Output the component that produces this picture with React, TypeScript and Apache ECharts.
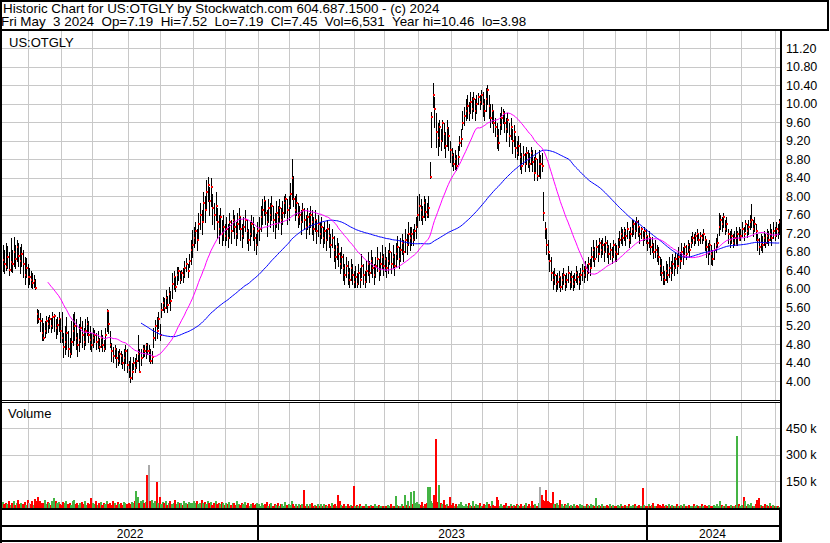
import React, { useEffect, useRef } from "react";
import * as echarts from "echarts";

// ---------- calendar (US market trading days shown on the chart) ----------
const FIRST_DAY = "2022-05-06";
const LAST_DAY = "2024-05-03";
const HOLIDAYS = [
  "2022-05-30", "2022-06-20", "2022-07-04", "2022-09-05", "2022-11-24", "2022-12-26",
  "2023-01-02", "2023-01-16", "2023-02-20", "2023-04-07", "2023-05-29", "2023-06-19",
  "2023-07-04", "2023-09-04", "2023-11-23", "2023-12-25",
  "2024-01-01", "2024-01-15", "2024-02-19", "2024-03-29",
];

// ---------- daily prices (one line per month) ----------
const CLOSES = [
  6.62,6.55,6.48,6.70,6.42,6.58,6.55,6.80,6.65,6.90,6.72,6.60,6.75,6.55,6.30,6.45,6.26,
  6.26,6.20,6.13,6.18,6.03,5.45,5.35,5.30,5.05,4.95,5.10,5.30,5.25,5.35,5.20,5.40,5.42,5.15,5.22,5.35,5.10,
  4.95,4.75,4.85,5.05,4.70,4.60,4.85,5.10,5.20,4.95,4.80,4.90,5.15,5.00,4.85,5.10,5.25,5.00,4.90,4.80,
  4.95,5.00,4.85,4.90,4.75,4.95,4.80,4.70,5.00,5.52,5.25,4.80,4.65,4.55,4.70,4.50,4.45,4.60,4.55,4.40,4.50,4.65,4.35,
  4.25,4.08,4.20,4.40,4.30,4.45,4.60,4.21,4.50,4.70,4.65,4.80,4.65,4.65,4.45,4.52,4.95,5.20,5.10,5.35,5.00,
  5.55,5.70,5.60,5.80,5.65,5.90,5.75,6.10,6.25,6.05,6.30,6.40,6.20,6.35,6.30,6.45,6.55,6.40,6.60,6.85,6.95,
  7.10,7.25,7.05,7.40,7.60,7.45,7.85,7.70,8.10,8.25,7.90,8.20,7.75,7.60,7.80,7.45,7.30,7.55,7.20,7.35,7.15,
  7.30,7.10,7.45,7.25,7.50,7.35,7.20,7.40,7.55,7.30,7.15,7.35,7.50,7.25,7.05,7.20,7.40,7.30,7.10,6.95,7.25,
  7.30,7.55,7.70,7.90,7.65,7.45,7.75,7.60,7.80,7.50,7.40,7.65,7.55,7.75,7.50,7.65,7.85,7.95,7.70,7.80,
  8.05,8.40,7.95,7.70,7.85,7.55,7.60,7.45,7.70,7.50,7.35,7.55,7.40,7.60,7.45,7.30,7.50,7.25,7.40,
  7.20,7.35,7.10,7.25,7.05,7.30,7.15,6.95,7.10,6.85,6.70,6.90,6.75,6.55,6.70,6.45,6.30,6.50,6.35,6.20,6.45,6.30,6.15,
  6.25,6.10,6.35,6.20,6.50,6.30,6.15,6.40,6.55,6.35,6.60,6.45,6.30,6.50,6.65,6.40,6.55,6.70,6.50,
  6.65,6.45,6.60,6.80,6.55,6.70,6.50,6.75,6.90,6.65,6.85,7.00,6.80,7.05,6.95,7.20,7.10,7.20,7.05,7.25,7.35,7.60,
  7.80,7.70,7.55,7.85,7.67,7.60,7.75,8.42,9.72,10.20,9.90,9.40,9.26,9.50,9.20,9.60,9.35,9.10,9.48,9.30,9.00,
  8.90,8.70,8.80,8.65,8.85,9.15,9.25,9.60,9.75,9.85,9.95,9.80,10.05,9.90,10.10,9.85,10.00,10.15,10.05,10.20,
  10.00,9.85,10.10,10.30,9.95,9.70,9.85,9.60,9.50,9.30,9.15,9.55,9.70,9.80,9.60,9.45,9.65,9.30,9.50,9.20,9.40,9.05,8.95,
  9.10,8.85,8.65,8.90,8.70,8.95,8.80,8.70,8.95,8.75,8.50,8.80,8.45,8.70,8.70,8.65,7.65,7.30,6.95,6.80,
  6.60,6.35,6.20,6.30,6.10,6.15,6.25,6.05,6.20,6.30,6.10,6.20,6.35,6.15,6.25,6.10,6.20,6.35,6.25,6.15,6.30,6.40,
  6.30,6.45,6.35,6.55,6.45,6.70,6.85,6.65,6.90,6.75,7.00,6.85,6.95,6.80,7.00,6.90,6.75,6.85,6.70,6.95,6.80,
  6.75,6.90,7.05,7.20,7.10,7.25,7.15,7.30,7.05,7.20,7.30,7.40,7.25,7.45,7.35,7.20,7.30,7.10,7.25,7.15,
  7.00,7.10,6.90,6.95,6.80,6.85,6.75,6.70,6.50,6.35,6.25,6.20,6.40,6.30,6.45,6.35,6.55,6.45,6.65,6.50,6.70,
  6.60,6.80,6.70,6.90,6.75,6.95,6.85,7.00,7.10,7.05,7.15,7.20,7.05,7.15,7.10,7.20,7.05,6.90,6.80,6.95,
  6.75,6.65,6.85,6.95,7.00,7.35,7.50,7.40,7.55,7.30,7.40,7.20,7.05,7.15,7.00,7.10,6.95,7.20,7.05,7.15,
  7.30,7.20,7.40,7.25,7.35,7.45,7.50,7.30,7.40,7.25,7.05,6.90,7.00,6.95,7.10,7.00,7.15,7.05,7.20,7.10,7.25,7.15,
  7.30,7.25,7.45,
];

const HIGHS = [
  6.95,6.85,7.00,6.92,6.80,7.10,6.85,7.13,6.95,7.05,7.00,6.90,6.98,6.85,6.70,6.68,6.55,
  6.45,6.40,6.35,6.30,6.22,5.57,5.55,5.48,5.38,5.27,5.30,5.42,5.40,5.44,5.38,5.50,5.45,5.35,5.40,5.50,5.35,
  5.50,5.05,5.20,5.40,5.10,4.95,5.30,5.45,5.50,5.35,5.05,5.25,5.40,5.30,5.15,5.35,5.40,5.30,5.20,5.05,
  5.15,5.12,5.05,5.10,4.95,5.12,5.00,4.90,5.15,5.57,5.50,5.10,4.84,4.75,4.80,4.73,4.65,4.70,4.65,4.60,4.70,4.80,4.70,
  4.45,4.54,4.40,4.54,4.50,4.60,5.00,4.70,4.70,4.80,4.78,4.84,4.84,4.80,4.70,4.65,5.15,5.33,5.40,5.50,5.25,
  5.70,5.83,5.80,5.98,5.85,6.05,5.95,6.35,6.40,6.25,6.48,6.48,6.40,6.42,6.45,6.60,6.67,6.55,6.75,7.05,7.27,
  7.35,7.45,7.30,7.65,7.85,7.70,8.10,8.00,8.35,8.42,8.20,8.40,8.05,7.85,8.10,7.75,7.60,7.75,7.50,7.60,7.40,
  7.55,7.40,7.65,7.50,7.70,7.60,7.45,7.65,7.75,7.55,7.40,7.55,7.70,7.50,7.30,7.45,7.60,7.55,7.35,7.20,7.45,
  7.55,7.80,7.95,8.00,7.90,7.70,7.95,7.85,8.00,7.80,7.65,7.90,7.80,7.95,7.75,7.90,8.00,8.05,7.95,8.00,
  8.30,8.80,8.45,8.00,8.05,7.85,7.80,7.70,7.85,7.75,7.60,7.75,7.65,7.80,7.70,7.55,7.70,7.50,7.60,
  7.45,7.55,7.35,7.45,7.30,7.50,7.40,7.20,7.30,7.15,6.95,7.10,7.00,6.80,6.90,6.75,6.55,6.70,6.60,6.45,6.65,6.55,6.40,
  6.50,6.35,6.55,6.45,6.75,6.55,6.40,6.60,6.80,6.60,6.85,6.70,6.55,6.70,6.90,6.65,6.80,6.95,6.75,
  6.90,6.70,6.85,7.00,6.80,6.95,6.75,7.00,7.15,6.90,7.10,7.20,7.05,7.30,7.20,7.45,7.35,7.35,7.30,7.40,7.55,8.00,
  8.05,7.95,7.80,8.00,7.95,7.85,8.00,8.75,9.83,10.46,10.15,9.80,9.60,9.66,9.45,9.66,9.60,9.40,9.66,9.50,9.20,
  9.05,8.95,9.00,8.90,9.10,9.30,9.45,9.85,9.94,10.10,10.20,10.05,10.26,10.15,10.25,10.10,10.20,10.24,10.20,10.30,
  10.25,10.10,10.35,10.41,10.20,10.00,10.00,9.85,9.70,9.60,9.45,9.80,9.94,9.90,9.85,9.70,9.80,9.60,9.70,9.45,9.55,9.30,9.20,
  9.30,9.16,8.95,9.10,8.95,9.07,9.00,8.95,9.07,9.00,8.85,9.00,8.80,9.00,8.90,8.95,8.10,7.45,7.30,7.05,
  6.75,6.70,6.40,6.45,6.30,6.35,6.40,6.25,6.35,6.45,6.30,6.35,6.50,6.35,6.40,6.30,6.35,6.50,6.40,6.35,6.45,6.55,
  6.50,6.60,6.55,6.70,6.65,6.90,7.05,6.90,7.05,6.95,7.10,7.05,7.10,7.00,7.15,7.05,6.95,7.00,6.90,7.05,7.00,
  6.95,7.10,7.25,7.35,7.30,7.35,7.30,7.45,7.25,7.35,7.50,7.50,7.45,7.55,7.50,7.35,7.33,7.25,7.35,7.30,
  7.15,7.25,7.10,7.13,7.00,7.05,6.95,6.90,6.70,6.64,6.50,6.40,6.60,6.55,6.70,6.60,6.75,6.70,6.80,6.75,6.90,
  6.80,7.00,6.90,7.00,6.95,7.05,7.00,7.15,7.24,7.20,7.24,7.30,7.20,7.24,7.20,7.30,7.15,7.06,7.00,7.05,
  6.95,6.85,7.00,7.10,7.20,7.65,7.60,7.55,7.65,7.50,7.55,7.30,7.25,7.30,7.20,7.25,7.35,7.25,7.35,7.30,
  7.45,7.35,7.50,7.40,7.50,7.60,7.84,7.50,7.55,7.40,7.20,7.10,7.20,7.15,7.25,7.20,7.30,7.25,7.40,7.30,7.45,7.35,
  7.45,7.40,7.52,
];

const LOWS = [
  6.40,6.35,6.42,6.45,6.30,6.40,6.37,6.50,6.45,6.60,6.50,6.35,6.50,6.26,6.10,6.25,6.05,
  6.10,6.05,6.02,6.05,6.00,5.27,5.28,5.10,4.90,4.90,4.97,5.05,5.08,5.15,5.08,5.16,5.10,4.95,5.02,5.10,4.85,
  4.85,4.52,4.60,4.70,4.55,4.52,4.60,4.80,4.90,4.70,4.55,4.65,4.85,4.75,4.70,4.80,5.00,4.85,4.70,4.65,
  4.75,4.85,4.70,4.72,4.65,4.75,4.65,4.65,4.70,5.10,5.05,4.75,4.45,4.43,4.50,4.32,4.35,4.40,4.37,4.30,4.25,4.40,4.20,
  4.10,3.98,4.05,4.26,4.20,4.30,4.45,4.20,4.35,4.54,4.55,4.50,4.60,4.45,4.40,4.40,4.75,4.90,4.95,5.15,4.90,
  5.40,5.55,5.50,5.60,5.50,5.70,5.55,5.80,6.00,5.95,6.10,6.20,6.13,6.20,6.15,6.26,6.40,6.26,6.48,6.55,6.70,
  6.90,7.00,6.85,7.10,7.30,7.20,7.50,7.45,7.75,7.90,7.60,7.80,7.40,7.30,7.50,7.10,7.00,7.20,6.95,7.05,6.95,
  7.05,6.90,7.10,7.00,7.25,7.10,6.95,7.10,7.30,7.05,6.90,7.10,7.25,7.00,6.85,6.95,7.15,7.05,6.85,6.75,6.95,
  7.05,7.25,7.40,7.60,7.40,7.15,7.45,7.35,7.50,7.25,7.10,7.35,7.30,7.45,7.20,7.40,7.55,7.65,7.40,7.50,
  7.75,7.95,7.80,7.50,7.60,7.35,7.40,7.20,7.45,7.30,7.10,7.30,7.20,7.35,7.20,7.05,7.25,7.00,7.15,
  7.00,7.10,6.90,7.00,6.85,7.05,6.90,6.70,6.90,6.60,6.45,6.65,6.50,6.35,6.45,6.20,6.10,6.25,6.10,6.05,6.20,6.10,6.05,
  6.05,6.05,6.10,6.05,6.25,6.10,6.05,6.15,6.30,6.15,6.35,6.25,6.10,6.25,6.40,6.20,6.30,6.45,6.30,
  6.40,6.25,6.35,6.55,6.35,6.45,6.30,6.50,6.65,6.45,6.60,6.75,6.60,6.80,6.75,6.95,6.85,6.95,6.95,7.05,7.10,7.35,
  7.50,7.50,7.40,7.55,7.50,7.55,7.55,8.40,9.07,9.94,9.50,9.07,8.90,9.10,9.00,9.20,9.05,8.86,9.10,9.00,8.75,
  8.65,8.57,8.60,8.57,8.70,9.00,9.10,9.45,9.55,9.65,9.70,9.66,9.80,9.70,9.85,9.66,9.80,10.00,9.90,10.00,
  9.75,9.66,9.85,10.00,9.70,9.50,9.60,9.40,9.30,9.05,9.00,9.35,9.45,9.60,9.40,9.20,9.40,9.10,9.25,8.95,9.10,8.86,8.80,
  8.90,8.60,8.50,8.70,8.55,8.70,8.64,8.55,8.70,8.55,8.36,8.55,8.36,8.45,8.40,8.55,7.50,7.10,6.75,6.65,
  6.40,6.20,6.00,6.10,5.95,6.00,6.05,5.95,6.00,6.10,5.98,6.05,6.15,6.00,6.05,5.97,6.05,6.15,6.10,6.00,6.10,6.20,
  6.15,6.25,6.20,6.35,6.30,6.50,6.60,6.50,6.70,6.60,6.80,6.70,6.75,6.60,6.80,6.70,6.57,6.65,6.57,6.70,6.60,
  6.60,6.75,6.90,7.00,6.95,7.05,6.95,7.10,6.90,7.00,7.15,7.20,7.10,7.25,7.15,7.00,7.10,6.95,7.05,7.00,
  6.85,6.90,6.75,6.80,6.67,6.70,6.60,6.55,6.30,6.20,6.10,6.10,6.20,6.15,6.25,6.20,6.35,6.30,6.45,6.35,6.55,
  6.45,6.65,6.55,6.75,6.64,6.80,6.70,6.90,7.00,6.95,7.00,7.05,6.95,7.00,7.00,7.05,6.85,6.70,6.55,6.75,
  6.55,6.52,6.65,6.80,6.90,7.17,7.30,7.25,7.35,7.20,7.25,7.00,6.90,7.00,6.90,6.95,6.95,6.95,7.05,7.05,
  7.15,7.05,7.25,7.13,7.20,7.30,7.35,7.15,7.25,7.05,6.85,6.76,6.85,6.80,6.95,6.90,7.00,6.95,7.05,6.95,7.10,7.05,
  7.15,7.10,7.19,
];

// daily volume, thousands of shares (one line per month)
const VOLUMES_K = [
  35,25,30,22,42,18,28,38,15,26,48,20,30,24,36,18,45,
  28,22,40,18,50,38,60,42,30,26,45,22,35,28,18,38,55,40,26,32,20,
  18,35,26,42,22,30,15,38,45,20,28,18,26,35,22,40,18,28,22,55,
  30,22,40,18,26,35,15,28,20,38,24,30,18,40,26,15,32,22,28,18,36,26,20,
  28,22,35,26,40,96,65,30,38,45,26,35,187,243,40,45,30,40,145,28,64,
  22,35,26,40,18,30,38,24,28,45,20,35,26,30,18,40,28,22,35,26,30,
  38,26,42,22,30,45,28,36,20,40,26,34,18,28,38,24,30,20,35,26,18,
  28,20,35,15,26,30,18,38,24,15,28,20,34,18,26,12,22,30,15,20,26,
  20,14,30,16,24,32,12,20,28,14,22,16,30,12,20,24,14,32,16,22,
  16,40,24,14,20,12,24,16,20,102,14,22,12,20,28,14,16,12,20,
  14,20,12,24,16,14,20,12,28,16,22,14,74,40,16,12,20,14,24,12,16,14,125,
  12,16,14,20,10,14,12,20,14,10,16,12,14,20,12,16,10,14,12,
  14,12,16,10,20,14,12,70,16,14,12,20,14,74,16,40,14,91,20,96,28,35,
  24,16,32,14,20,28,119,119,38,30,74,390,32,130,28,20,45,16,24,14,60,
  16,26,12,20,14,24,32,16,12,20,14,28,16,12,42,14,20,16,26,12,
  14,20,16,32,24,12,38,16,14,64,45,14,20,12,16,26,14,12,20,14,16,12,20,
  16,12,20,14,16,26,12,20,14,42,16,20,14,26,119,74,45,38,102,40,
  32,26,91,24,20,28,16,45,24,14,20,16,26,12,16,14,24,12,16,14,20,16,
  14,12,20,16,14,24,16,12,57,14,16,12,20,14,12,16,14,20,12,16,14,
  12,16,14,20,12,14,16,12,20,14,12,16,20,14,12,16,14,113,16,12,
  14,20,12,16,26,14,12,20,16,14,24,12,16,14,20,12,16,14,12,20,14,
  12,16,14,20,12,14,16,12,14,20,12,16,14,12,20,14,16,12,14,16,
  14,12,16,14,20,12,40,16,14,12,20,14,12,16,14,12,16,408,20,14,
  16,60,38,14,20,16,26,14,12,20,45,55,16,14,12,20,16,14,26,12,16,14,
  12,14,6.531,
];

const MA_FAST = 30;
const MA_SLOW = 90;
const PRICE_TICKS = { min: 3.6, max: 11.6, step: 0.4 };
const VOLUME_TICKS = { min: 0, max: 600, step: 150 };

const HEADER_1 = "Historic Chart for US:OTGLY by Stockwatch.com 604.687.1500 - (c) 2024";
const HEADER_2 = "Fri May  3 2024  Op=7.19  Hi=7.52  Lo=7.19  Cl=7.45  Vol=6,531  Year hi=10.46  lo=3.98";
const SYMBOL = "US:OTGLY";

const FONT = '"Liberation Sans", Arial, Helvetica, sans-serif';

function tradingDays(): string[] {
  const out: string[] = [];
  const d = new Date(FIRST_DAY + "T00:00:00Z");
  const end = new Date(LAST_DAY + "T00:00:00Z").getTime();
  while (d.getTime() <= end) {
    const wd = d.getUTCDay();
    const s = d.toISOString().slice(0, 10);
    if (wd !== 0 && wd !== 6 && HOLIDAYS.indexOf(s) < 0) out.push(s);
    d.setUTCDate(d.getUTCDate() + 1);
  }
  return out;
}

function movingAverage(src: number[], n: number): (number | null)[] {
  return src.map((_, i) => {
    if (i < n - 1) return null;
    let s = 0;
    for (let k = i - n + 1; k <= i; k++) s += src[k];
    return +(s / n).toFixed(4);
  });
}

export default function App() {
  const ref = useRef<HTMLDivElement>(null);

  useEffect(() => {
    const chart = echarts.init(ref.current!, null, { renderer: "svg" });
    const dates = tradingDays();
    const n = dates.length;

    const monthStart = dates.map((d, i) => i > 0 && d.slice(0, 7) !== dates[i - 1].slice(0, 7));
    const yearStart = dates.map((d, i) => i > 0 && d.slice(0, 4) !== dates[i - 1].slice(0, 4));
    const yearMid: boolean[] = dates.map(() => false);
    let s0 = 0;
    for (let i = 1; i <= n; i++) {
      if (i === n || yearStart[i]) {
        yearMid[Math.floor((s0 + i - 1) / 2)] = true;
        s0 = i;
      }
    }

    const volColors = CLOSES.map((c, i) =>
      i === 0 || c > CLOSES[i - 1] ? "#44b444" : c < CLOSES[i - 1] ? "#ff0000" : "#aaaaaa"
    );

    const gridColor = "#c8c8c8";
    const priceData = dates.map((_, i) => [i, HIGHS[i], LOWS[i], CLOSES[i]]);
    const volData = dates.map((_, i) => [i, VOLUMES_K[i]]);

    const frame = (x1: number, y1: number, x2: number, y2: number, w: number) => ({
      type: "line",
      shape: { x1, y1, x2, y2 },
      style: { stroke: "#000", lineWidth: w },
      z: 100,
      silent: true,
    });

    const option: any = {
      animation: false,
      backgroundColor: "#ffffff",
      grid: [
        { left: 2, top: 30, width: 778, height: 370 },
        { left: 2, top: 402, width: 778, height: 106 },
      ],
      xAxis: [
        {
          type: "category",
          gridIndex: 0,
          data: dates,
          boundaryGap: true,
          axisLine: { show: false },
          axisTick: { show: false },
          axisLabel: { show: false },
          splitLine: { show: true, interval: (i: number) => monthStart[i], lineStyle: { color: gridColor, width: 1 } },
        },
        {
          type: "category",
          gridIndex: 1,
          data: dates,
          boundaryGap: true,
          axisLine: { show: false },
          axisTick: {
            show: true,
            interval: (i: number) => yearStart[i],
            length: 33,
            lineStyle: { color: "#000", width: 2 },
          },
          axisLabel: {
            show: true,
            interval: (i: number) => yearMid[i],
            formatter: (v: string) => v.slice(0, 4),
            margin: 20,
            color: "#000",
            fontSize: 12,
            fontFamily: FONT,
          },
          splitLine: { show: true, interval: (i: number) => monthStart[i], lineStyle: { color: gridColor, width: 1 } },
        },
      ],
      yAxis: [
        {
          type: "value",
          gridIndex: 0,
          position: "right",
          min: PRICE_TICKS.min,
          max: PRICE_TICKS.max,
          interval: PRICE_TICKS.step,
          axisLine: { show: false },
          axisTick: { show: false },
          axisLabel: {
            margin: 6,
            color: "#000",
            fontSize: 12.5,
            fontFamily: FONT,
            formatter: (v: number) => (v < 3.9 || v > 11.3 ? "" : v.toFixed(2)),
          },
          splitLine: { show: true, lineStyle: { color: gridColor, width: 1 } },
        },
        {
          type: "value",
          gridIndex: 1,
          position: "right",
          min: VOLUME_TICKS.min,
          max: VOLUME_TICKS.max,
          interval: VOLUME_TICKS.step,
          axisLine: { show: false },
          axisTick: { show: false },
          axisLabel: {
            margin: 6,
            color: "#000",
            fontSize: 12.5,
            fontFamily: FONT,
            formatter: (v: number) => (v <= 0 || v >= 600 ? "" : `${v} k`),
          },
          splitLine: { show: true, lineStyle: { color: gridColor, width: 1 } },
        },
      ],
      series: [
        {
          type: "custom",
          name: "HLC",
          xAxisIndex: 0,
          yAxisIndex: 0,
          data: priceData,
          encode: { x: 0, y: [1, 2, 3] },
          clip: true,
          silent: true,
          renderItem: (_p: any, api: any) => {
            const i = api.value(0);
            const hi = api.coord([i, api.value(1)]);
            const lo = api.coord([i, api.value(2)]);
            const cl = api.coord([i, api.value(3)]);
            const x = Math.round(hi[0]) + 0.5;
            return {
              type: "group",
              children: [
                {
                  type: "line",
                  shape: { x1: x, y1: Math.round(hi[1]), x2: x, y2: Math.round(lo[1]) + 1 },
                  style: { stroke: "#000", lineWidth: 1 },
                },
                {
                  type: "rect",
                  shape: { x: x - 0.5, y: Math.round(cl[1]) - 1, width: 2, height: 2 },
                  style: { fill: "#ff0000" },
                },
              ],
            };
          },
        },
        {
          type: "line",
          name: "MA90",
          xAxisIndex: 0,
          yAxisIndex: 0,
          data: movingAverage(CLOSES, MA_SLOW),
          showSymbol: false,
          symbol: "none",
          silent: true,
          lineStyle: { color: "#0000ff", width: 1 },
          z: 3,
        },
        {
          type: "line",
          name: "MA30",
          xAxisIndex: 0,
          yAxisIndex: 0,
          data: movingAverage(CLOSES, MA_FAST),
          showSymbol: false,
          symbol: "none",
          silent: true,
          lineStyle: { color: "#ff00ff", width: 1 },
          z: 4,
        },
        {
          type: "custom",
          name: "Volume",
          xAxisIndex: 1,
          yAxisIndex: 1,
          data: volData,
          encode: { x: 0, y: 1 },
          clip: true,
          silent: true,
          renderItem: (_p: any, api: any) => {
            const i = api.value(0);
            const top = api.coord([i, api.value(1)]);
            const base = api.coord([i, 0]);
            const x0 = Math.round(top[0] - 1);
            const y0 = Math.round(top[1]);
            return {
              type: "rect",
              shape: { x: x0, y: y0, width: 2, height: Math.max(1, Math.round(base[1]) - y0) },
              style: { fill: volColors[i] },
            };
          },
        },
      ],
      graphic: [
        {
          type: "rect",
          shape: { x: 1, y: 1, width: 827, height: 29 },
          style: { fill: "none", stroke: "#000", lineWidth: 2 },
          z: 100,
          silent: true,
        },
        frame(1, 0, 1, 543, 2),
        frame(781, 30, 781, 542, 2),
        frame(0, 400.5, 781, 400.5, 1),
        frame(0, 402.5, 781, 402.5, 1),
        frame(0, 509, 781, 509, 2),
        frame(0, 526, 781, 526, 2),
        frame(0, 541, 781, 541, 2),
        {
          type: "text",
          x: 3,
          y: 8,
          z: 101,
          silent: true,
          style: { text: HEADER_1, fill: "#000", fontSize: 13.4, fontFamily: FONT, verticalAlign: "middle" },
        },
        {
          type: "text",
          x: 1,
          y: 21.5,
          z: 101,
          silent: true,
          style: { text: HEADER_2, fill: "#000", fontSize: 13.4, fontFamily: FONT, verticalAlign: "middle" },
        },
        {
          type: "text",
          x: 9,
          y: 42,
          z: 101,
          silent: true,
          style: { text: SYMBOL, fill: "#000", fontSize: 13, fontFamily: FONT, verticalAlign: "middle" },
        },
        {
          type: "text",
          x: 8,
          y: 413.5,
          z: 101,
          silent: true,
          style: { text: "Volume", fill: "#000", fontSize: 13, fontFamily: FONT, verticalAlign: "middle" },
        },
      ],
    };

    chart.setOption(option);
    return () => chart.dispose();
  }, []);

  return (
    <div
      ref={ref}
      style={{ position: "absolute", left: 0, top: 0, width: 830, height: 543, background: "#fff" }}
    />
  );
}
